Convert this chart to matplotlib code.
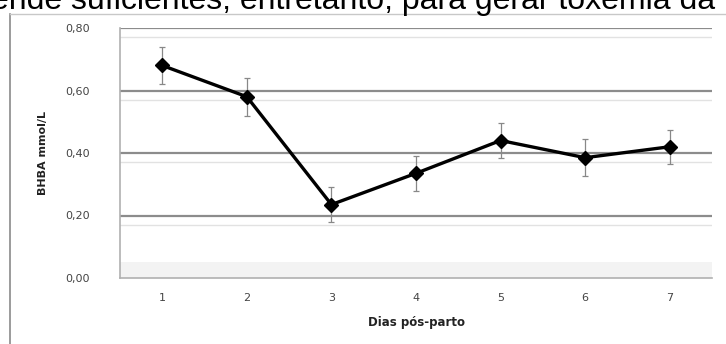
import matplotlib.pyplot as plt
from matplotlib.patches import Rectangle
from matplotlib.lines import Line2D

# BHBA means and standard errors per post-partum day
days = ['1', '2', '3', '4', '5', '6', '7']
bhba = [0.68, 0.58, 0.235, 0.335, 0.44, 0.385, 0.42]
bhba_err = [0.06, 0.06, 0.055, 0.055, 0.055, 0.06, 0.055]
y_ticks = [0.0, 0.2, 0.4, 0.6, 0.8]
y_tick_labels = ['0,00', '0,20', '0,40', '0,60', '0,80']

fig = plt.figure(figsize=(7.26, 3.44), dpi=100)
fig.patch.set_facecolor('white')

# running text of the page, cut by the top edge
fig.text(-0.012, 1 - 9 / 344, 'ende suficientes, entretanto, para gerar toxemia da',
         fontsize=23, family='Liberation Sans', color='black', va='baseline')

# outer frame of the chart object
fig.add_artist(Line2D([10 / 726, 10 / 726], [0, 1 - 14 / 344], transform=fig.transFigure,
                      color='#8a8a8a', lw=1.2))
fig.add_artist(Line2D([10 / 726, 1], [1 - 14 / 344, 1 - 14 / 344], transform=fig.transFigure,
                      color='#c8c8c8', lw=1.0))

ax = fig.add_axes([120 / 726, 1 - 278 / 344, 592 / 726, 250 / 344])
x = list(range(len(days)))

# floor band and gridlines with a soft shadow line beneath
ax.add_patch(Rectangle((-0.5, 0.0), len(days), 0.05, color='#f3f3f3', zorder=0, lw=0))
for yt in y_ticks[1:]:
    ax.axhline(yt, color='#8c8c8c', lw=1.6, zorder=1)
    ax.axhline(yt - 0.03, color='#e2e2e2', lw=1.0, zorder=1)

ax.errorbar(x, bhba, yerr=bhba_err, fmt='none', ecolor='#888888', elinewidth=0.9,
            capsize=2.5, capthick=0.9, zorder=2)
ax.plot(x, bhba, color='black', lw=2.4, marker='D', markersize=7, zorder=3)

ax.set_xlim(-0.5, len(days) - 0.5)
ax.set_ylim(0, 0.8)
ax.set_xticks(x)
ax.set_xticklabels(days)
ax.set_yticks(y_ticks)
ax.set_yticklabels(y_tick_labels)
ax.tick_params(length=0, labelsize=8, labelcolor='#444444')
ax.tick_params(axis='y', pad=22)
ax.tick_params(axis='x', pad=11)

for side in ['top', 'right']:
    ax.spines[side].set_visible(False)
for side in ['left', 'bottom']:
    ax.spines[side].set_color('#b0b0b0')
    ax.spines[side].set_linewidth(1.2)

ax.set_xlabel('Dias pós-parto', fontsize=8.5, fontweight='bold', color='#222222', labelpad=9)
ax.set_ylabel('BHBA mmol/L', fontsize=8, fontweight='bold', color='#222222', labelpad=12)

fig.savefig('out.png', dpi=100)
